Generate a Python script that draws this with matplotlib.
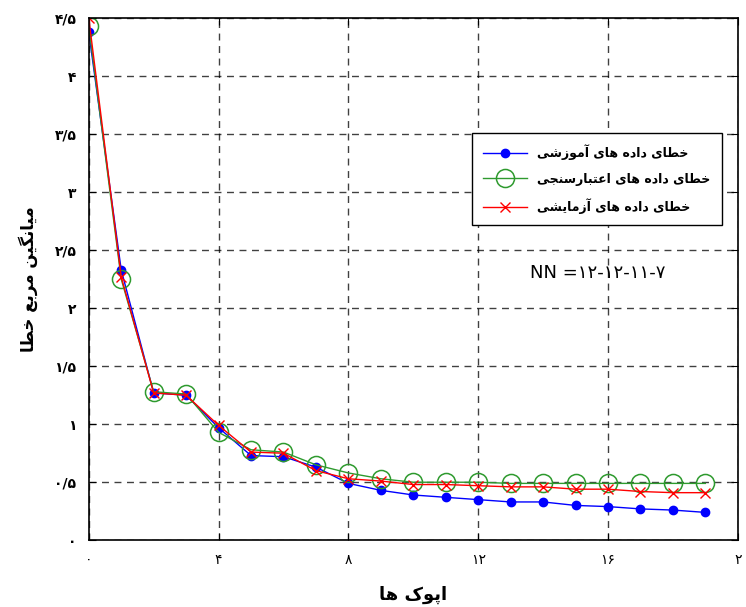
import matplotlib
matplotlib.use("Agg")
import matplotlib.pyplot as plt

# Mean squared error per epoch
epochs = list(range(20))
train_err = [4.38, 2.33, 1.27, 1.25, 0.97, 0.73, 0.72, 0.63, 0.49, 0.43,
             0.39, 0.37, 0.35, 0.33, 0.33, 0.30, 0.29, 0.27, 0.26, 0.24]
valid_err = [4.43, 2.25, 1.28, 1.26, 0.93, 0.78, 0.76, 0.65, 0.58, 0.53,
             0.50, 0.50, 0.50, 0.49, 0.49, 0.49, 0.49, 0.49, 0.49, 0.49]
test_err = [4.50, 2.27, 1.27, 1.25, 0.99, 0.76, 0.75, 0.60, 0.53, 0.51,
            0.48, 0.48, 0.47, 0.46, 0.46, 0.44, 0.44, 0.42, 0.41, 0.41]

x_ticks = [0, 4, 8, 12, 16, 20]
x_tick_labels = ["۰", "۴", "۸", "۱۲", "۱۶", "۲"]
y_ticks = [0, 0.5, 1, 1.5, 2, 2.5, 3, 3.5, 4, 4.5]
y_tick_labels = ["۰", "۰/۵", "۱", "۱/۵", "۲", "۲/۵", "۳", "۳/۵", "۴", "۴/۵"]

series_names = ["خطای داده های آموزشی",
                "خطای داده های اعتبارسنجی",
                "خطای داده های آزمایشی"]
x_title = "اپوک ها"
y_title = "میانگین مربع خطا"
net_text = "NN =۱۲-۱۲-۱۱-۷"

# matplotlib has no Arabic shaping, so pick presentation forms by hand
# (isolated, final, initial, medial) and reverse into visual order.
FORMS = {
    "ا": (0xFE8D, 0xFE8E), "آ": (0xFE81, 0xFE82),
    "د": (0xFEA9, 0xFEAA), "ر": (0xFEAD, 0xFEAE),
    "ز": (0xFEAF, 0xFEB0), "و": (0xFEED, 0xFEEE),
    "ب": (0xFE8F, 0xFE90, 0xFE91, 0xFE92),
    "پ": (0xFB56, 0xFB57, 0xFB58, 0xFB59),
    "ت": (0xFE95, 0xFE96, 0xFE97, 0xFE98),
    "ج": (0xFE9D, 0xFE9E, 0xFE9F, 0xFEA0),
    "خ": (0xFEA5, 0xFEA6, 0xFEA7, 0xFEA8),
    "س": (0xFEB1, 0xFEB2, 0xFEB3, 0xFEB4),
    "ش": (0xFEB5, 0xFEB6, 0xFEB7, 0xFEB8),
    "ط": (0xFEC1, 0xFEC2, 0xFEC3, 0xFEC4),
    "ع": (0xFEC9, 0xFECA, 0xFECB, 0xFECC),
    "ک": (0xFB8E, 0xFB8F, 0xFB90, 0xFB91),
    "گ": (0xFB92, 0xFB93, 0xFB94, 0xFB95),
    "ل": (0xFEDD, 0xFEDE, 0xFEDF, 0xFEE0),
    "م": (0xFEE1, 0xFEE2, 0xFEE3, 0xFEE4),
    "ن": (0xFEE5, 0xFEE6, 0xFEE7, 0xFEE8),
    "ه": (0xFEE9, 0xFEEA, 0xFEEB, 0xFEEC),
    "ی": (0xFBFC, 0xFBFD, 0xFBFE, 0xFBFF),
}


def shape(text):
    out = []
    for i, ch in enumerate(text):
        if ch not in FORMS:
            out.append(ch)
            continue
        prev = text[i - 1] if i > 0 else ""
        nxt = text[i + 1] if i + 1 < len(text) else ""
        join_prev = prev in FORMS and len(FORMS[prev]) == 4
        join_next = len(FORMS[ch]) == 4 and nxt in FORMS
        f = FORMS[ch]
        if join_prev and join_next:
            out.append(chr(f[3]))
        elif join_prev:
            out.append(chr(f[1]))
        elif join_next:
            out.append(chr(f[2]))
        else:
            out.append(chr(f[0]))
    return "".join(out)[::-1]


plt.rcParams["font.family"] = ["DejaVu Sans"]

fig = plt.figure(figsize=(7.46, 6.07), dpi=100)
ax = fig.add_axes([0.119, 0.110, 0.870, 0.860])

ax.plot(epochs, train_err, color="blue", marker="o", markersize=6,
        linewidth=1, label=shape(series_names[0]))
ax.plot(epochs, valid_err, color="#2e9a2e", marker="o", markersize=13,
        markerfacecolor="none", markeredgewidth=1.1, linewidth=1,
        label=shape(series_names[1]))
ax.plot(epochs, test_err, color="red", marker="x", markersize=7,
        linewidth=1, label=shape(series_names[2]))

ax.set_xlim(0, 20)
ax.set_ylim(0, 4.5)
ax.set_xticks(x_ticks)
ax.set_xticklabels(x_tick_labels, fontsize=10)
ax.set_yticks(y_ticks)
ax.set_yticklabels(y_tick_labels, fontsize=10, fontweight="bold")
ax.tick_params(direction="in", top=True, right=True, length=5)
ax.tick_params(axis="x", pad=9)
ax.tick_params(axis="y", pad=9)
ax.grid(True, color="black", linestyle=(0, (5, 4)), linewidth=1, alpha=0.75)
for s in ax.spines.values():
    s.set_linewidth(1.2)

ax.set_xlabel(shape(x_title), fontsize=13, fontweight="bold", labelpad=14)
ax.set_ylabel(shape(y_title), fontsize=12, fontweight="bold", labelpad=12)

ax.text(13.6, 2.3, net_text, fontsize=13, va="center")

ax.legend(loc="upper right", bbox_to_anchor=(0.975, 0.78), borderaxespad=0,
          fancybox=False, edgecolor="black", framealpha=1, handlelength=3.5,
          borderpad=0.9, labelspacing=1.0,
          prop={"weight": "bold", "size": 9})

fig.savefig("out.png", dpi=100)
